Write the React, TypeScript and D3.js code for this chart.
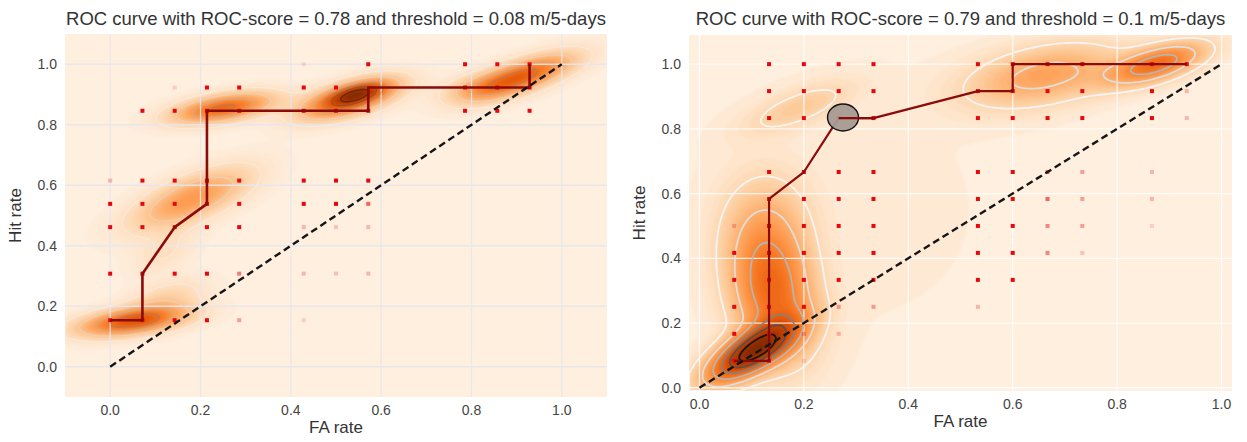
import React, { useMemo } from 'react'
import * as d3 from 'd3'

const W = 1247
const H = 442

// ---- data ----
const ticks = [0, 0.2, 0.4, 0.6, 0.8, 1.0]

const leftTitle = 'ROC curve with ROC-score = 0.78 and threshold = 0.08 m/5-days'
const rightTitle = 'ROC curve with ROC-score = 0.79 and threshold = 0.1 m/5-days'

// FA rate in 14ths, hit rate in 13ths
const leftDen: [number, number] = [14, 13]
const leftRoc: [number, number][] = [
  [0, 2], [1, 2], [1, 4], [2, 6], [3, 7], [3, 11], [8, 11], [8, 12], [13, 12], [13, 13],
]
// [fa index, hit index, weight]
const leftDots: [number, number, number][] = [
  [6, 13, 0.12], [8, 13, 1], [11, 13, 1], [12, 13, 1], [13, 13, 1],
  [2, 12, 0.15], [3, 12, 1], [4, 12, 1], [6, 12, 1], [7, 12, 1], [11, 12, 1], [12, 12, 1], [13, 12, 1],
  [1, 11, 1], [2, 11, 1], [3, 11, 1], [4, 11, 1], [6, 11, 1], [7, 11, 1], [8, 11, 1], [11, 11, 1], [12, 11, 1], [13, 11, 1],
  [0, 8, 0.25], [1, 8, 1], [2, 8, 1], [3, 8, 1], [4, 8, 1], [6, 8, 1], [7, 8, 1], [8, 8, 1],
  [0, 7, 1], [1, 7, 1], [2, 7, 1], [3, 7, 1], [4, 7, 1], [6, 7, 1], [7, 7, 1], [8, 7, 0.6],
  [0, 6, 1], [1, 6, 1], [2, 6, 1], [3, 6, 1], [4, 6, 1], [6, 6, 0.25], [7, 6, 0.2], [8, 6, 0.25],
  [0, 4, 1], [1, 4, 1], [2, 4, 1], [3, 4, 1], [4, 4, 0.5], [6, 4, 0.25], [7, 4, 0.2], [8, 4, 0.25],
  [0, 2, 1], [1, 2, 1], [2, 2, 1], [3, 2, 1], [4, 2, 0.35], [6, 2, 0.15],
]
// density blobs: centre, spread, tilt (deg), weight
const leftBlobs = [
  { cx: 0.05, cy: 0.15, sx: 0.08, sy: 0.028, angle: 12, w: 0.8 },
  { cx: 0.12, cy: 0.22, sx: 0.065, sy: 0.035, angle: 30, w: 0.18 },
  { cx: 0.18, cy: 0.555, sx: 0.1, sy: 0.042, angle: 35, w: 0.46 },
  { cx: 0.12, cy: 0.38, sx: 0.06, sy: 0.035, angle: 50, w: 0.1 },
  { cx: 0.25, cy: 0.855, sx: 0.075, sy: 0.028, angle: 15, w: 0.72 },
  { cx: 0.53, cy: 0.885, sx: 0.075, sy: 0.032, angle: 25, w: 0.85 },
  { cx: 0.55, cy: 0.905, sx: 0.045, sy: 0.02, angle: 25, w: 0.5 },
  { cx: 0.91, cy: 0.96, sx: 0.085, sy: 0.031, angle: 28, w: 0.75 },
  { cx: 0.82, cy: 0.92, sx: 0.055, sy: 0.03, angle: 15, w: 0.22 },
]

// FA rate in 15ths, hit rate in 12ths
const rightDen: [number, number] = [15, 12]
const rightRoc: [number, number][] = [
  [1, 1], [2, 1], [2, 7], [3, 8], [4, 10], [5, 10], [8, 11], [9, 11], [9, 12], [14, 12],
]
const rightDots: [number, number, number][] = [
  [2, 12, 1], [3, 12, 1], [4, 12, 1], [5, 12, 1], [8, 12, 1], [9, 12, 1], [10, 12, 1], [11, 12, 1], [13, 12, 1], [14, 12, 1],
  [2, 11, 1], [3, 11, 1], [4, 11, 1], [5, 11, 1], [8, 11, 1], [9, 11, 1], [10, 11, 1], [11, 11, 1], [13, 11, 1], [14, 11, 0.25],
  [2, 10, 1], [3, 10, 1], [4, 10, 1], [5, 10, 1], [8, 10, 1], [9, 10, 1], [10, 10, 1], [11, 10, 1], [13, 10, 1], [14, 10, 0.25],
  [2, 8, 1], [3, 8, 1], [4, 8, 1], [5, 8, 1], [8, 8, 1], [9, 8, 1], [10, 8, 0.6], [11, 8, 0.35], [13, 8, 0.25],
  [2, 7, 1], [3, 7, 1], [4, 7, 1], [5, 7, 1], [8, 7, 1], [9, 7, 1], [10, 7, 0.6], [11, 7, 0.35], [13, 7, 0.25],
  [1, 6, 0.25], [2, 6, 1], [3, 6, 1], [4, 6, 1], [5, 6, 1], [8, 6, 1], [9, 6, 1], [10, 6, 0.45], [11, 6, 0.35], [13, 6, 0.15],
  [1, 5, 1], [2, 5, 1], [3, 5, 1], [4, 5, 1], [5, 5, 1], [8, 5, 1], [9, 5, 1], [10, 5, 0.45], [11, 5, 0.2],
  [1, 4, 1], [2, 4, 1], [3, 4, 1], [4, 4, 1], [5, 4, 1], [8, 4, 1], [9, 4, 1],
  [1, 3, 1], [2, 3, 1], [3, 3, 1], [4, 3, 0.35], [5, 3, 0.35], [8, 3, 0.25],
  [1, 2, 1], [2, 2, 1], [3, 2, 0.35], [4, 2, 0.25],
  [1, 1, 1], [2, 1, 1], [3, 1, 0.15],
]
const rightMarker: [number, number] = [0.275, 0.835]
const rightBlobs = [
  { cx: 0.1, cy: 0.11, sx: 0.075, sy: 0.032, angle: 50, w: 1.0 },
  { cx: 0.14, cy: 0.3, sx: 0.05, sy: 0.13, angle: 5, w: 0.5 },
  { cx: 0.13, cy: 0.5, sx: 0.055, sy: 0.11, angle: 0, w: 0.15 },
  { cx: 0.19, cy: 0.865, sx: 0.08, sy: 0.033, angle: 35, w: 0.12 },
  { cx: 0.66, cy: 0.965, sx: 0.1, sy: 0.055, angle: 22, w: 0.27 },
  { cx: 0.875, cy: 1.0, sx: 0.065, sy: 0.03, angle: 30, w: 0.5 },
  { cx: 0.3, cy: 0.55, sx: 0.3, sy: 0.45, angle: 0, w: 0.012 },
]

type Blob = { cx: number; cy: number; sx: number; sy: number; angle: number; w: number }

function density(blobs: Blob[], x: number, y: number) {
  let v = 0
  for (const b of blobs) {
    const a = (b.angle * Math.PI) / 180
    const dx = x - b.cx
    const dy = y - b.cy
    const u = dx * Math.cos(a) + dy * Math.sin(a)
    const q = -dx * Math.sin(a) + dy * Math.cos(a)
    v += b.w * Math.exp(-0.5 * ((u * u) / (b.sx * b.sx) + (q * q) / (b.sy * b.sy)))
  }
  return v
}

type PanelProps = {
  id: string
  title: string
  box: { left: number; right: number; top: number; bottom: number }
  xDomain: [number, number]
  yDomain: [number, number]
  blobs: Blob[]
  dots: [number, number, number][]
  den: [number, number]
  roc: [number, number][]
  marker?: [number, number]
  lineOpacity: number
  lineWidth: number
  gamma: number
  gridColor: string
  gridOpacity: number
  rocWidth: number
}

function Panel(p: PanelProps) {
  const { box } = p
  const x = d3.scaleLinear().domain(p.xDomain).range([box.left, box.right])
  const y = d3.scaleLinear().domain(p.yDomain).range([box.bottom, box.top])

  const { fills, lines } = useMemo(() => {
    const nx = 220
    const ny = 180
    const dxc = (p.xDomain[1] - p.xDomain[0]) / nx
    const dyc = (p.yDomain[1] - p.yDomain[0]) / ny
    const values = new Array(nx * ny)
    for (let j = 0; j < ny; j++) {
      for (let i = 0; i < nx; i++) {
        values[i + j * nx] = density(p.blobs, p.xDomain[0] + (i + 0.5) * dxc, p.yDomain[1] - (j + 0.5) * dyc)
      }
    }
    const max = d3.max(values) as number
    const proj = d3.geoTransform({
      point(gx: number, gy: number) {
        this.stream.point(x(p.xDomain[0] + gx * dxc), y(p.yDomain[1] - gy * dyc))
      },
    })
    const path = d3.geoPath(proj)
    const nFill = 40
    const fillLevels = d3.range(1, nFill).map((k) => Math.pow(k / nFill, 1.3) * max)
    const fc = d3.contours().size([nx, ny]).thresholds(fillLevels)(values)
    const fills = fc.map((c) => ({ d: path(c) || '', t: c.value / max }))
    const lineLevels = [0.07, 0.2, 0.36, 0.52, 0.68, 0.85].map((t) => t * max)
    const lc = d3.contours().size([nx, ny]).thresholds(lineLevels)(values)
    const lines = lc.map((c) => ({ d: path(c) || '', t: c.value / max }))
    return { fills, lines }
  }, [p.id])

  const orange = (t: number) => d3.interpolateOranges(0.05 + 0.95 * Math.pow(t, p.gamma))
  const line = d3.line<[number, number]>().x((d) => x(d[0] / p.den[0])).y((d) => y(d[1] / p.den[1]))
  const cx = (box.left + box.right) / 2
  const cy = (box.top + box.bottom) / 2
  const font = 'Liberation Sans, Arial, sans-serif'

  return (
    <g>
      <defs>
        <clipPath id={`clip-${p.id}`}>
          <rect x={box.left} y={box.top} width={box.right - box.left} height={box.bottom - box.top} />
        </clipPath>
        <filter id={`soft-${p.id}`} x="-5%" y="-5%" width="110%" height="110%">
          <feGaussianBlur stdDeviation="1.0" />
        </filter>
      </defs>
      <g clipPath={`url(#clip-${p.id})`}>
        <rect x={box.left} y={box.top} width={box.right - box.left} height={box.bottom - box.top} fill={orange(0)} />
        <g filter={`url(#soft-${p.id})`}>
          {fills.map((f, i) => (
            <path key={i} d={f.d} fill={orange(f.t)} />
          ))}
        </g>
        {ticks.map((t) => (
          <g key={t}>
            <line x1={x(t)} x2={x(t)} y1={box.top} y2={box.bottom} stroke={p.gridColor} strokeWidth={1.3} strokeOpacity={p.gridOpacity} />
            <line x1={box.left} x2={box.right} y1={y(t)} y2={y(t)} stroke={p.gridColor} strokeWidth={1.3} strokeOpacity={p.gridOpacity} />
          </g>
        ))}
        {lines.map((l, i) => (
          <path key={i} d={l.d} fill="none" stroke={d3.interpolateGreys(Math.min(1, l.t * 1.1))}
            strokeWidth={p.lineWidth} strokeOpacity={p.lineOpacity} strokeLinejoin="round" />
        ))}
        {p.dots.map((d, i) => (
          <rect key={i} x={x(d[0] / p.den[0]) - 2} y={y(d[1] / p.den[1]) - 2} width={4} height={4}
            fill="#e8070b" fillOpacity={d[2]} />
        ))}
        <path d={line(p.roc) || ''} fill="none" stroke="#8b0a0a" strokeWidth={p.rocWidth} strokeLinejoin="round" />
        <line x1={x(0)} y1={y(0)} x2={x(1)} y2={y(1)} stroke="#151515" strokeWidth={2.4} strokeDasharray="7,4" />
        {p.marker && (
          <ellipse cx={x(p.marker[0])} cy={y(p.marker[1])} rx={15.5} ry={13.5} fill="#a59a92" fillOpacity={0.95}
            stroke="#111" strokeWidth={1.4} />
        )}
        {p.marker && (
          <path d={line(p.roc.slice(4, 6)) || ''} fill="none" stroke="#8b0a0a" strokeWidth={p.rocWidth} />
        )}
      </g>
      <text x={cx} y={25} textAnchor="middle" fontFamily={font} fontSize={18.5} fill="#333">{p.title}</text>
      {ticks.map((t) => (
        <text key={`x${t}`} x={x(t)} y={box.bottom + 18} textAnchor="middle" fontFamily={font} fontSize={14} fill="#444">
          {d3.format('.1f')(t)}
        </text>
      ))}
      {ticks.map((t) => (
        <text key={`y${t}`} x={box.left - 8} y={y(t) + 5} textAnchor="end" fontFamily={font} fontSize={14} fill="#444">
          {d3.format('.1f')(t)}
        </text>
      ))}
      <text x={cx} y={box.bottom + 36} textAnchor="middle" fontFamily={font} fontSize={17} fill="#333">FA rate</text>
      <text transform={`translate(${box.left - 44},${cy}) rotate(-90)`} textAnchor="middle" fontFamily={font}
        fontSize={17} fill="#333">Hit rate</text>
    </g>
  )
}

export default function App() {
  return (
    <svg width={W} height={H} style={{ display: 'block', position: 'absolute', left: 0, top: 0, background: '#fff' }}>
      <Panel id="left" title={leftTitle} box={{ left: 65, right: 607, top: 34, bottom: 397 }}
        xDomain={[-0.1, 1.1]} yDomain={[-0.1, 1.1]} blobs={leftBlobs} dots={leftDots} den={leftDen}
        roc={leftRoc} lineOpacity={0.45} lineWidth={1.3} gamma={0.8} gridColor="#e6e5f0" gridOpacity={0.9} rocWidth={2.6} />
      <Panel id="right" title={rightTitle} box={{ left: 689, right: 1232, top: 35, bottom: 391 }}
        xDomain={[-0.02, 1.02]} yDomain={[-0.01, 1.09]} blobs={rightBlobs} dots={rightDots} den={rightDen}
        roc={rightRoc} marker={rightMarker} lineOpacity={0.95} lineWidth={1.8} gamma={0.65} gridColor="#ffffff" gridOpacity={0.8} rocWidth={2.2} />
    </svg>
  )
}
